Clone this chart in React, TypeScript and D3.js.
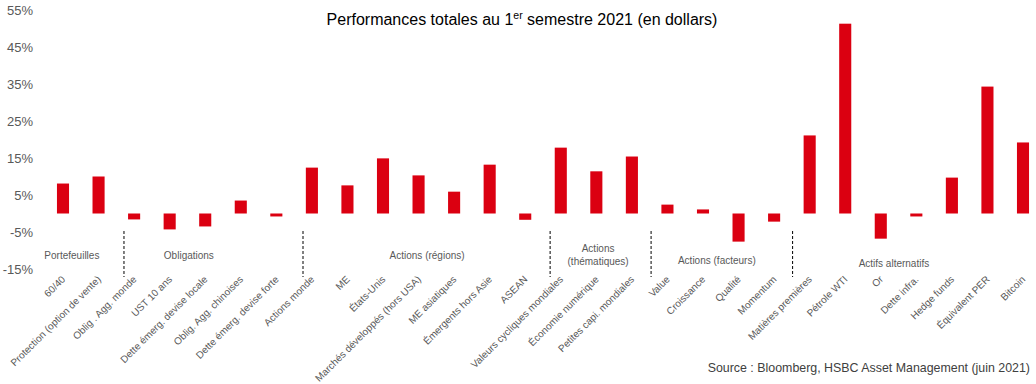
import React from "react";
import * as d3 from "d3";

const categories = [
  "60/40",
  "Protection (option de vente)",
  "Oblig . Agg. monde",
  "UST 10 ans",
  "Dette émerg. devise locale",
  "Oblig. Agg. chinoises",
  "Dette émerg. devise forte",
  "Actions monde",
  "ME",
  "États-Unis",
  "Marchés développés (hors USA)",
  "ME asiatiques",
  "Émergents hors Asie",
  "ASEAN",
  "Valeurs cycliques mondiales",
  "Économie numérique",
  "Petites capi. mondiales",
  "Value",
  "Croissance",
  "Qualité",
  "Momentum",
  "Matières premières",
  "Pétrole WTI",
  "Or",
  "Dette infra.",
  "Hedge funds",
  "Équivalent PER",
  "Bitcoin",
];

const values = [
  8.1, 10.0, -1.6, -4.3, -3.5, 3.5, -0.8, 12.4, 7.6, 14.9, 10.3, 5.9, 13.2, -1.7,
  17.8, 11.4, 15.4, 2.4, 1.1, -7.6, -2.2, 21.1, 51.3, -6.8, -0.8, 9.7, 34.3, 19.2,
];

const yTicks = [55, 45, 35, 25, 15, 5, -5, -15];

const groupLabels = [
  ["Portefeuilles"],
  ["Obligations"],
  ["Actions (régions)"],
  ["Actions", "(thématiques)"],
  ["Actions (facteurs)"],
  ["Actifs alternatifs"],
];
// group label centres and separators, in category-index units
const groupCentres = [0.25, 3.54, 10.24, 15.05, 18.39, 23.37];
const groupLabelY = [255, 255, 255, 248, 260, 263];
const separators = [1.715, 6.75, 13.7, 16.54, 20.52];

const title = "Performances totales au 1";
const titleSup = "er";
const titleEnd = " semestre 2021 (en dollars)";
const source = "Source : Bloomberg, HSBC Asset Management (juin 2021)";

const W = 1036;
const H = 384;
const FONT = "'Liberation Sans', Arial, sans-serif";
const RED = "#DB0011";
const GREY = "#595959";

export default function App() {
  const y = d3.scaleLinear().domain([-15, 55]).range([269, 10]);
  const x = d3.scalePoint<string>().domain(categories).range([63, 1023]);
  const idx = d3.scaleLinear().domain([0, categories.length - 1]).range([63, 1023]);
  const barW = x.step() * 0.34;
  const y0 = y(0);

  return (
    <svg
      width={W}
      height={H}
      style={{ position: "absolute", left: 0, top: 0, background: "#fff" }}
      fontFamily={FONT}
    >
      <rect width={W} height={H} fill="#fff" />
      <text x={522} y={25} fontSize={16} textAnchor="middle" fill="#000">
        {title}
        <tspan fontSize={10.5} dy={-6}>{titleSup}</tspan>
        <tspan dy={6}>{titleEnd}</tspan>
      </text>

      {yTicks.map((t) => (
        <text
          key={t}
          x={33}
          y={y(t)}
          fontSize={13}
          textAnchor="end"
          dominantBaseline="central"
          fill={GREY}
        >
          {t + "%"}
        </text>
      ))}

      {categories.map((c, i) => {
        const v = values[i];
        const xc = x(c)!;
        return (
          <rect
            key={c}
            x={xc - barW / 2}
            width={barW}
            y={Math.min(y(v), y0)}
            height={Math.abs(y(v) - y0)}
            fill={RED}
          />
        );
      })}

      {categories.map((c) => {
        const xc = x(c)!;
        return (
          <text
            key={"l" + c}
            transform={`translate(${xc + 3},${280}) rotate(-45)`}
            fontSize={10}
            textAnchor="end"
            fill={GREY}
          >
            {c}
          </text>
        );
      })}

      {separators.map((s) => (
        <line
          key={s}
          x1={idx(s)}
          x2={idx(s)}
          y1={231}
          y2={277}
          stroke="#000"
          strokeWidth={1}
          strokeDasharray="3,2"
        />
      ))}

      {groupLabels.map((lines, i) => (
        <text
          key={i}
          x={idx(groupCentres[i])}
          y={groupLabelY[i]}
          fontSize={10}
          textAnchor="middle"
          dominantBaseline="central"
          fill={GREY}
        >
          {lines.map((l, j) => (
            <tspan key={j} x={idx(groupCentres[i])} dy={j === 0 ? 0 : 13}>
              {l}
            </tspan>
          ))}
        </text>
      ))}

      <text x={1030} y={372} fontSize={12.4} textAnchor="end" fill="#404040">
        {source}
      </text>
    </svg>
  );
}
